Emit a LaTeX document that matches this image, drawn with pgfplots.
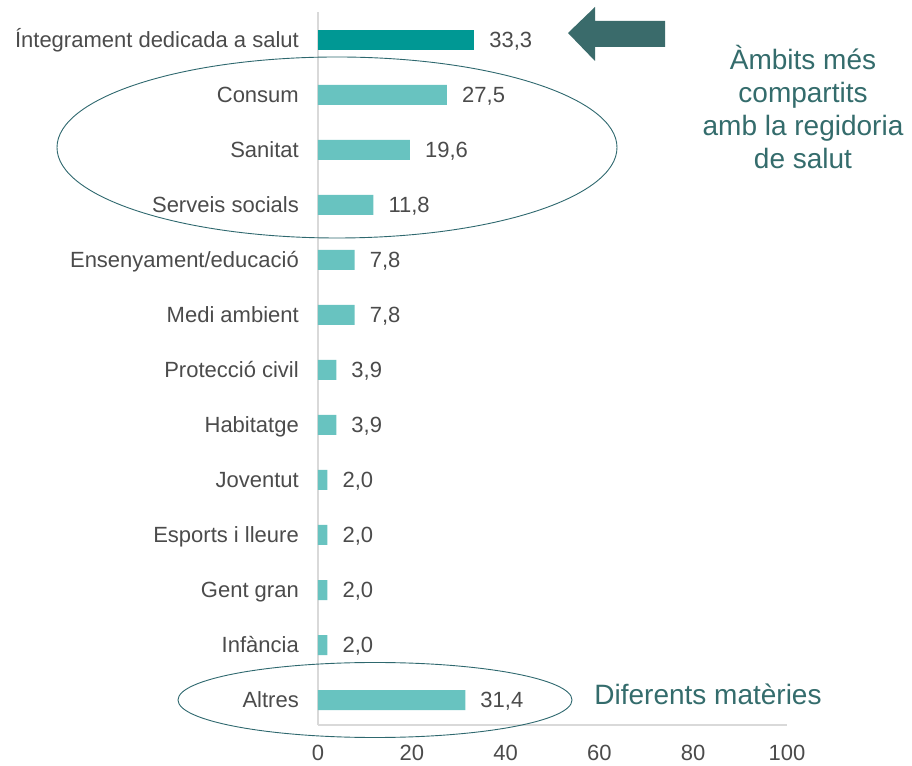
\documentclass[border=0pt]{standalone}
\usepackage{pgfplots}
\pgfplotsset{compat=1.18}
\usepackage{fontspec}
\setmainfont{Liberation Sans}
\definecolor{darkbar}{RGB}{0,152,148}
\definecolor{lightbar}{RGB}{104,195,192}
\definecolor{arrowc}{RGB}{58,107,107}
\definecolor{annot}{RGB}{52,108,108}
\definecolor{ellc}{RGB}{46,104,110}
\definecolor{labc}{RGB}{75,75,75}
\definecolor{axc}{RGB}{217,217,217}
\begin{document}
\begin{tikzpicture}[x=1pt,y=1pt]
\useasboundingbox (-318,-40) rectangle (594,725);
\begin{axis}[
  at={(0,0)}, anchor=south west,
  scale only axis, width=469pt, height=713pt,
  xmin=0, xmax=100, ymin=-0.4545, ymax=12.5091,
  xbar, bar width=20pt,
  axis lines=left, axis line style={draw=axc, line width=1.2pt, -},
  major tick length=0pt,
  xtick={0,20,40,60,80,100},
  ytick={0,...,12},
  yticklabels={Altres,Infància,Gent gran,Esports i lleure,Joventut,Habitatge,Protecció civil,Medi ambient,Ensenyament/educació,Serveis socials,Sanitat,Consum,Íntegrament dedicada a salut},
  tick label style={font=\fontsize{22}{26}\selectfont, text=labc, inner sep=0pt},
  yticklabel style={xshift=-19pt, text height=15.8pt, text depth=0pt},
  xticklabel style={yshift=-20pt},
  /pgf/number format/assume math mode=true,
  nodes near coords={\pgfmathprintnumber[fixed,fixed zerofill,precision=1,use comma]{\pgfplotspointmeta}},
  nodes near coords align={horizontal},
  every node near coord/.append style={font=\fontsize{22}{26}\selectfont, text=labc, inner sep=0pt, xshift=15pt, text height=15.8pt, text depth=0pt, anchor=west},
  point meta=x,
  clip=false,
]
\addplot[fill=lightbar, draw=none, bar shift=0pt] coordinates {
(31.4,0) (2.0,1) (2.0,2) (2.0,3) (2.0,4) (3.9,5) (3.9,6) (7.8,7) (7.8,8) (11.8,9) (19.6,10) (27.5,11)};
\addplot[fill=darkbar, draw=none, bar shift=0pt] coordinates {(33.3,12)};
\end{axis}
\fill[arrowc] (250,692) -- (277,718) -- (277,704) -- (347,704) -- (347,678) -- (277,678) -- (277,664) -- cycle;
\draw[ellc, line width=0.9pt] (19,577.5) ellipse [x radius=280, y radius=90.5];
\draw[ellc, line width=0.9pt] (57,25) ellipse [x radius=197, y radius=37.5];
\node[align=center, text=annot, font=\fontsize{28}{33}\selectfont, inner sep=0pt] at (485,618) {Àmbits més\\compartits\\amb la regidoria\\de salut};
\node[text=annot, font=\fontsize{28}{33}\selectfont, inner sep=0pt, anchor=base] at (390,20) {Diferents matèries};
\end{tikzpicture}
\end{document}
